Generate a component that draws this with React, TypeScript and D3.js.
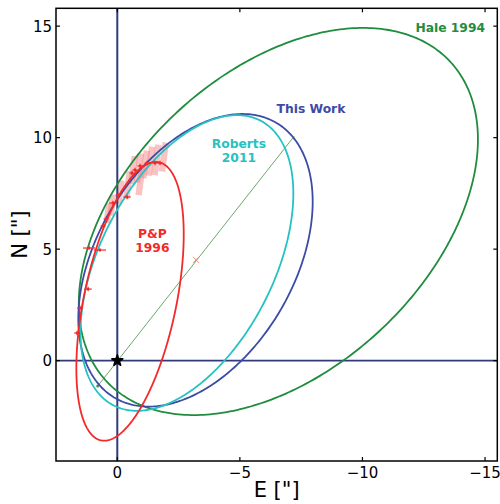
import React from 'react';
import * as d3 from 'd3';

const WIDTH = 500;
const HEIGHT = 504;

// axis domains and ticks
const xDomain = [2.5, -15.5];
const yDomain = [-4.5, 15.8];
const xTicks = [0, -5, -10, -15];
const yTicks = [0, 5, 10, 15];

// orbits (apparent ellipses): centre, half-extent in E and N, phase of N relative to E (deg)
const orbitNames = ['Hale 1994', 'This Work', 'Roberts 2011', 'P&P 1996'];
const orbitCenterE = [-6.57, -3.19, -2.84, -0.52];
const orbitCenterN = [6.24, 4.5, 4.38, 2.66];
const orbitHalfE = [8.14, 4.78, 4.34, 2.19];
const orbitHalfN = [8.68, 6.56, 6.63, 6.25];
const orbitPhase = [115.1, 113.6, 118.0, 118.7];

// line of apsides of "This Work" orbit and its centre
const apsisE = [0.8, -7.22];
const apsisN = [-1.14, 10.07];
const centreMark = { E: -3.21, N: 4.52 };

// measured positions
const obsE = [1.64, 1.52, 1.19, 1.15, 0.71, 0.58, 0.46, 0.18, -0.03, -0.4, -0.6, -0.72, -0.93, -1.21, -1.54, -1.74];
const obsN = [1.24, 2.36, 3.21, 5.05, 4.96, 6.04, 6.35, 7.07, 7.43, 7.34, 8.41, 8.55, 8.73, 8.86, 8.86, 8.86];
const obsErrE = [0.12, 0.12, 0.15, 0.25, 0.25, 0.1, 0.1, 0.15, 0.1, 0.15, 0.1, 0.1, 0.1, 0.1, 0.1, 0.1];
const obsErrN = [0.1, 0.1, 0.1, 0.08, 0.08, 0.1, 0.1, 0.1, 0.1, 0.1, 0.1, 0.1, 0.1, 0.1, 0.1, 0.1];

// error boxes (centre, half-length along box)
const boxE = [-1.9, -1.6, -1.35, -1.13, -0.88, -0.64, -0.95, -0.44, -0.11, 0.22, 0.38];
const boxN = [9.13, 9.0, 8.95, 8.8, 8.64, 8.55, 8.1, 7.88, 7.56, 6.98, 6.62];
const boxHalfLen = [0.65, 0.68, 0.65, 0.62, 0.65, 0.62, 0.68, 0.62, 0.52, 0.47, 0.44];
const boxTilt = -0.12;

const labelText = [['Hale 1994'], ['This Work'], ['Roberts', '2011'], ['P&P', '1996']];
const labelE = [-13.58, -7.9, -4.96, -1.43];
const labelN = [14.75, 11.12, 9.55, 5.5];

const colors = ['#1f8c3e', '#3c4ba6', '#26c2c2', '#f22a2a'];
const axisNavy = '#2f3b7a';

export default function App() {
  const left = 56, right = 497.3, top = 8.3, bottom = 461;
  const x = d3.scaleLinear().domain(xDomain).range([left, right]);
  const y = d3.scaleLinear().domain(yDomain).range([bottom, top]);

  const angles = d3.range(0, 361, 1).map((d) => (d * Math.PI) / 180);
  const line = d3
    .line<[number, number]>()
    .x((d) => x(d[0]))
    .y((d) => y(d[1]));

  const orbitPaths = orbitNames.map((_, i) => {
    const ph = (orbitPhase[i] * Math.PI) / 180;
    const pts: [number, number][] = angles.map((t) => [
      orbitCenterE[i] + orbitHalfE[i] * Math.cos(t),
      orbitCenterN[i] + orbitHalfN[i] * Math.cos(t - ph),
    ]);
    return line(pts) || '';
  });

  const star = d3.symbol().type(d3.symbolStar).size(38)() || '';
  const font = 'DejaVu Sans, sans-serif';
  const tickLen = 4;

  return (
    <svg
      width={WIDTH}
      height={HEIGHT}
      style={{ position: 'absolute', left: 0, top: 0, background: '#fff' }}
      fontFamily={font}
    >
      <rect x={0} y={0} width={WIDTH} height={HEIGHT} fill="#fff" />
      {/* error boxes */}
      <g>
        {boxE.map((e, i) => (
          <line
            key={'b' + i}
            x1={x(e - boxTilt * boxHalfLen[i])}
            y1={y(boxN[i] - boxHalfLen[i])}
            x2={x(e + boxTilt * boxHalfLen[i])}
            y2={y(boxN[i] + boxHalfLen[i])}
            stroke="#f27a7a"
            strokeOpacity={0.45}
            strokeWidth={6.5}
          />
        ))}
      </g>
      {/* zero axes */}
      <line x1={x(0)} x2={x(0)} y1={top} y2={bottom} stroke={axisNavy} strokeWidth={2} />
      <line x1={left} x2={right} y1={y(0)} y2={y(0)} stroke={axisNavy} strokeWidth={1.6} />
      {/* apsides line */}
      <line
        x1={x(apsisE[0])}
        y1={y(apsisN[0])}
        x2={x(apsisE[1])}
        y2={y(apsisN[1])}
        stroke="#6aa86e"
        strokeWidth={1}
      />
      <circle cx={x(apsisE[0])} cy={y(apsisN[0])} r={1.5} fill="#4a8a50" />
      <g stroke="#f08a70" strokeWidth={1}>
        <line x1={x(centreMark.E) - 3} y1={y(centreMark.N) - 3} x2={x(centreMark.E) + 3} y2={y(centreMark.N) + 3} />
        <line x1={x(centreMark.E) - 3} y1={y(centreMark.N) + 3} x2={x(centreMark.E) + 3} y2={y(centreMark.N) - 3} />
      </g>
      {/* orbits */}
      {orbitPaths.map((p, i) => (
        <path key={'o' + i} d={p} fill="none" stroke={colors[i]} strokeWidth={1.8} />
      ))}
      {/* observations */}
      <g stroke="#f22a2a" strokeWidth={1.2}>
        {obsE.map((e, i) => (
          <g key={'p' + i}>
            <line x1={x(e - obsErrE[i])} x2={x(e + obsErrE[i])} y1={y(obsN[i])} y2={y(obsN[i])} />
            <line x1={x(e)} x2={x(e)} y1={y(obsN[i] - obsErrN[i])} y2={y(obsN[i] + obsErrN[i])} />
            <circle cx={x(e)} cy={y(obsN[i])} r={1.3} fill="#f22a2a" stroke="none" />
          </g>
        ))}
      </g>
      {/* primary star */}
      <path d={star} transform={`translate(${x(0)},${y(0)})`} fill="#000" stroke="#000" strokeWidth={1.5} strokeLinejoin="round" />
      {/* labels */}
      {labelText.map((lines, i) => (
        <text
          key={'l' + i}
          x={x(labelE[i])}
          y={y(labelN[i])}
          fill={colors[i]}
          fontWeight="bold"
          fontSize={12.3}
          textAnchor="middle"
        >
          {lines.map((s, j) => (
            <tspan key={j} x={x(labelE[i])} dy={j === 0 ? 0 : 14}>
              {s}
            </tspan>
          ))}
        </text>
      ))}
      {/* frame */}
      <rect x={left} y={top} width={right - left} height={bottom - top} fill="none" stroke="#000" strokeWidth={1.5} />
      {/* ticks */}
      <g stroke="#000" strokeWidth={1.2}>
        {xTicks.map((t) => (
          <g key={'xt' + t}>
            <line x1={x(t)} x2={x(t)} y1={bottom} y2={bottom - tickLen} />
            <line x1={x(t)} x2={x(t)} y1={top} y2={top + tickLen} />
          </g>
        ))}
        {yTicks.map((t) => (
          <g key={'yt' + t}>
            <line x1={left} x2={left + tickLen} y1={y(t)} y2={y(t)} />
            <line x1={right} x2={right - tickLen} y1={y(t)} y2={y(t)} />
          </g>
        ))}
      </g>
      <g fontSize={15} fill="#000">
        {xTicks.map((t) => (
          <text key={'xl' + t} x={x(t)} y={bottom + 17} textAnchor="middle">
            {t < 0 ? '\u2212' + Math.abs(t) : String(t)}
          </text>
        ))}
        {yTicks.map((t) => (
          <text key={'yl' + t} x={left - 4} y={y(t) + 5.5} textAnchor="end">
            {t}
          </text>
        ))}
      </g>
      <text x={(left + right) / 2} y={497} textAnchor="middle" fontSize={21} fill="#000">
        E ["]
      </text>
      <text
        transform={`translate(${27},${(top + bottom) / 2}) rotate(-90)`}
        textAnchor="middle"
        fontSize={21}
        fill="#000"
      >
        N ["]
      </text>
    </svg>
  );
}
